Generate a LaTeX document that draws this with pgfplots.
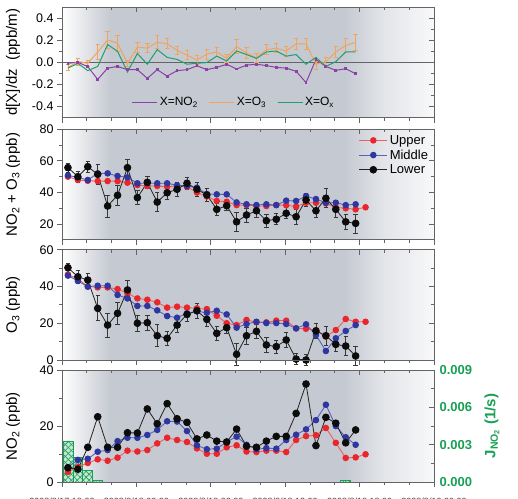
\documentclass[border=0pt]{standalone}
\usepackage{fontspec}
\setmainfont{Liberation Sans}
\usepackage{pgfplots}
\usepackage{pgfplotstable}
\pgfplotsset{compat=1.18}
\usetikzlibrary{patterns.meta}

\definecolor{nightgray}{RGB}{197,201,209}
\definecolor{upperred}{RGB}{234,38,44}
\definecolor{upperline}{RGB}{238,96,96}
\definecolor{middleblue}{RGB}{46,54,160}
\definecolor{middleline}{RGB}{88,98,190}
\definecolor{lowerdot}{RGB}{12,12,12}
\definecolor{lowerline}{RGB}{35,35,35}
\definecolor{errgray}{RGB}{55,55,55}
\definecolor{gradno}{RGB}{140,64,168}
\definecolor{grado}{RGB}{242,164,92}
\definecolor{gradox}{RGB}{32,160,112}
\definecolor{jgreen}{RGB}{24,160,84}
\definecolor{framegray}{RGB}{100,100,100}

% day/night background: white at the edges, grey during the night
\pgfdeclarehorizontalshading{nightshade}{100bp}{%
  color(0bp)=(white); color(25bp)=(white);
  color(31.5bp)=(nightgray); color(63bp)=(nightgray);
  color(68bp)=(nightgray!50!white); color(75bp)=(nightgray!12!white);
  color(100bp)=(nightgray!12!white)}

% vertical gradients d[X]/dz
\pgfplotstableread{
i no2 o3 o3e ox
0 -0.010 -0.047 0.030 -0.053
1 0.000 0.006 0.030 -0.010
2 -0.040 -0.009 0.030 -0.076
3 -0.155 0.093 0.070 -0.038
4 -0.053 0.202 0.080 0.160
5 -0.038 0.172 0.070 0.099
6 -0.067 -0.009 0.030 -0.088
7 -0.067 0.137 0.045 0.079
8 -0.146 0.128 0.040 -0.018
9 -0.067 0.181 0.060 0.114
10 -0.126 0.167 0.045 0.044
11 -0.076 0.108 0.040 0.026
12 -0.067 0.064 0.040 -0.018
13 -0.032 0.020 0.040 -0.009
14 -0.067 0.073 0.045 -0.003
15 -0.047 0.093 0.040 0.055
16 -0.018 0.035 0.035 0.011
17 -0.061 0.143 0.060 0.102
18 -0.026 0.084 0.050 0.070
19 -0.018 0.040 0.040 0.035
20 -0.030 0.114 0.045 0.093
21 -0.047 0.128 0.040 0.102
22 -0.053 0.102 0.045 0.055
23 -0.082 0.167 0.050 0.070
24 -0.184 0.167 0.050 -0.018
25 0.025 -0.017 0.045 0.044
26 -0.038 0.006 0.040 -0.038
27 -0.073 0.093 0.050 0.006
28 -0.059 0.152 0.060 0.093
29 -0.103 0.181 0.075 0.093
}\gradtab

% NO2 + O3 at three heights
\pgfplotstableread{
i up mid low lowe
0 50.0 50.8 55.7 3.0
1 47.9 49.5 50.0 3.5
2 47.4 47.9 56.3 3.5
3 47.2 52.1 51.5 6.5
4 47.2 52.1 31.4 7.0
5 47.2 50.4 38.2 6.5
6 46.2 49.6 55.7 5.0
7 44.7 45.8 36.7 4.5
8 44.1 45.8 46.4 4.0
9 44.1 45.8 33.9 6.0
10 43.6 45.8 39.8 4.0
11 44.1 44.5 42.0 4.5
12 43.6 44.1 45.8 4.0
13 40.0 43.0 42.0 4.5
14 37.5 39.0 38.4 4.0
15 34.6 38.8 29.3 3.5
16 34.1 38.8 31.6 3.0
17 32.0 33.7 21.4 6.0
18 32.0 32.5 25.7 4.5
19 31.4 32.0 28.4 4.0
20 31.4 32.5 22.1 4.0
21 32.0 32.0 23.0 3.5
22 32.0 34.8 26.8 3.5
23 31.0 34.6 24.6 4.5
24 33.5 37.7 35.2 4.0
25 33.5 35.8 28.4 4.0
26 33.1 33.5 36.3 6.0
27 30.6 33.5 29.3 5.0
28 30.0 32.0 21.4 4.5
29 29.3 32.5 20.4 6.0
30 30.6 nan nan nan
}\oxtab

% O3 at three heights
\pgfplotstableread{
i up mid low lowe
0 46.5 45.9 50.2 2.5
1 44.0 43.0 45.3 3.5
2 40.0 39.9 43.5 3.5
3 39.5 40.4 28.1 6.8
4 39.5 40.4 19.0 6.5
5 38.6 35.4 25.4 6.0
6 36.3 33.5 38.1 5.0
7 33.5 29.4 20.0 4.5
8 32.8 29.4 20.3 4.0
9 31.4 27.0 13.2 6.0
10 28.5 23.9 11.8 4.0
11 29.0 23.0 19.0 4.0
12 28.5 25.4 24.8 4.0
13 28.1 26.5 26.8 4.0
14 27.7 25.7 22.1 4.0
15 24.1 26.8 14.5 4.0
16 20.0 24.8 17.6 3.0
17 19.0 17.6 3.1 6.0
18 21.8 19.6 13.2 4.5
19 20.6 20.8 15.6 4.0
20 20.5 20.1 8.2 4.0
21 21.4 20.1 7.3 3.5
22 21.4 19.6 10.9 4.0
23 17.2 17.2 0.5 3.0
24 17.0 19.4 0.0 3.0
25 16.3 13.6 15.8 4.0
26 12.7 4.9 13.2 5.0
27 16.3 11.8 8.5 4.0
28 22.3 15.8 7.6 5.0
29 20.8 19.0 2.2 5.0
30 20.8 nan nan nan
}\othreetab

% NO2 at three heights
\pgfplotstableread{
i up mid low
0 3.6 5.3 5.1
1 5.3 7.9 4.6
2 6.8 8.3 12.4
3 8.1 10.8 23.3
4 7.6 11.4 12.4
5 8.7 14.6 12.4
6 11.2 15.8 17.6
7 10.9 15.8 17.5
8 11.4 16.8 26.1
9 13.8 18.6 20.8
10 15.8 21.7 28.0
11 15.0 21.6 22.6
12 14.3 18.2 21.3
13 12.0 13.1 15.4
14 10.1 11.7 16.8
15 10.1 11.9 14.6
16 12.4 14.3 14.3
17 13.1 16.2 18.9
18 10.9 13.3 12.8
19 10.7 11.7 12.4
20 11.2 12.1 14.6
21 11.2 11.9 16.3
22 10.7 15.0 16.3
23 15.0 16.9 24.5
24 16.4 18.8 35.0
25 16.7 22.1 13.0
26 19.3 27.6 23.1
27 14.0 20.0 21.0
28 8.6 16.0 14.0
29 8.8 13.3 18.6
30 9.9 nan nan
}\notab

% NO2 photolysis frequency
\pgfplotstableread{
i j
0 0.0033
1 0.0020
2 0.0009
3 0.0001
28 0.0001
}\jtab

\pgfplotsset{
  every panel/.style={
    scale only axis, width=372pt,
    xmin=-0.6, xmax=36.9,
    xtick={-0.6,6.9,14.4,21.9,29.4,36.9},
    minor xtick={1.9,4.4,9.4,11.9,16.9,19.4,24.4,26.9,31.9,34.4},
    axis line style={framegray, line width=0.9pt},
    tick style={framegray, line width=0.8pt},
    major tick length=5pt, minor tick length=3pt,
    tick label style={font=\fontsize{12.5}{14}\selectfont, color=black},
    /pgf/number format/assume math mode=true,
    clip=false,
  },
  outer ticks/.style={every panel,
    tick align=outside, xtick pos=left, ytick pos=left,
    xticklabels={},
    every axis y label/.style={at={(axis description cs:-0.1317,0.5)},
      rotate=90, anchor=center,
      font=\fontsize{15}{17}\selectfont},
  },
  inner ticks/.style={every panel,
    tick align=inside, xtick pos=right, ytick pos=right,
    xticklabels={}, yticklabels={},
  },
  upper/.style={upperline, line width=0.9pt, mark=*, mark size=2.8pt,
    mark options={fill=upperred, draw=upperred}},
  middle/.style={middleline, line width=0.9pt, mark=*, mark size=2.8pt,
    mark options={fill=middleblue, draw=middleblue}},
  lower/.style={lowerline, line width=0.8pt, mark=*, mark size=3.4pt,
    mark options={fill=lowerdot, draw=lowerdot}},
  lowerbars/.style={error bars/.cd, y dir=both, y explicit,
    error bar style={errgray, line width=0.7pt},
    error mark options={errgray, rotate=90, mark size=2.2pt, line width=0.7pt}},
}

\begin{document}
\begin{tikzpicture}[x=1pt,y=1pt]
\useasboundingbox (0,0) rectangle (518,-498);
\clip (0,0) rectangle (518,-498);

% ---- panel 1: vertical gradients
\begin{axis}[outer ticks, at={(62pt,-7pt)}, anchor=north west, height=110.5pt,
  ymin=-0.5, ymax=0.5, ytick={-0.4,-0.2,0,0.2,0.4},
  minor ytick={-0.3,-0.1,0.1,0.3},
  yticklabel style={/pgf/number format/.cd, fixed, fixed zerofill, precision=1},
  ylabel={d[X]/dz\ \ (ppb/m)},
  axis background/.style={shading=nightshade},
  legend style={at={(0.462,0.055)}, anchor=south, draw=none, fill=none,
    font=\fontsize{12}{14}\selectfont,
    /tikz/every even column/.append style={column sep=9pt}},
  legend columns=3,
  legend image code/.code={\draw[#1] (0pt,0pt) -- (25pt,0pt);},
]
\draw[framegray, line width=0.9pt] (axis cs:-0.6,0) -- (axis cs:36.9,0);
\addplot[gradno, line width=1pt, mark=square*, mark size=0.9pt, forget plot]
  table[x=i, y=no2] {\gradtab};
\addplot[grado, line width=1pt, mark=none, forget plot,
  error bars/.cd, y dir=both, y explicit,
  error bar style={grado, line width=0.8pt},
  error mark options={grado, rotate=90, mark size=2.2pt, line width=0.8pt}]
  table[x=i, y=o3, y error=o3e] {\gradtab};
\addplot[gradox, line width=1pt, mark=none, forget plot]
  table[x=i, y=ox] {\gradtab};
\addlegendimage{gradno, line width=1pt}
\addlegendentry{X=NO\textsubscript{2}}
\addlegendimage{grado, line width=1pt}
\addlegendentry{X=O\textsubscript{3}}
\addlegendimage{gradox, line width=1pt}
\addlegendentry{X=O\textsubscript{x}}
\end{axis}
\begin{axis}[inner ticks, at={(62pt,-7pt)}, anchor=north west, height=110.5pt,
  ymin=-0.5, ymax=0.5, ytick={-0.4,-0.2,0,0.2,0.4},
  minor ytick={-0.3,-0.1,0.1,0.3}]
\end{axis}

% ---- panel 2: NO2 + O3
\begin{axis}[outer ticks, at={(62pt,-129.3pt)}, anchor=north west, height=110.5pt,
  ymin=10, ymax=80, ytick={20,40,60,80}, minor ytick={30,50,70},
  ylabel={NO\textsubscript{2} + O\textsubscript{3} (ppb)},
  axis background/.style={shading=nightshade},
  legend style={at={(0.998,0.985)}, anchor=north east, draw=none, fill=none,
    font=\fontsize{13}{15}\selectfont},
  legend cell align=left,
  legend image code/.code={\draw[mark repeat=2,mark phase=2,#1]
    plot coordinates {(0pt,0pt) (14pt,0pt) (28pt,0pt)};},
]
\addplot[upper] table[x=i, y=up] {\oxtab};
\addlegendentry{Upper}
\addplot[middle] table[x=i, y=mid] {\oxtab};
\addlegendentry{Middle}
\addplot[lower, lowerbars] table[x=i, y=low, y error=lowe] {\oxtab};
\addlegendentry{Lower}
\end{axis}
\begin{axis}[inner ticks, at={(62pt,-129.3pt)}, anchor=north west, height=110.5pt,
  ymin=10, ymax=80, ytick={20,40,60,80}, minor ytick={30,50,70}]
\end{axis}

% ---- panel 3: O3
\begin{axis}[outer ticks, at={(62pt,-249.7pt)}, anchor=north west, height=110.3pt,
  ymin=0, ymax=60, ytick={0,20,40,60}, minor ytick={10,30,50},
  ylabel={O\textsubscript{3} (ppb)},
  axis background/.style={shading=nightshade},
]
\addplot[upper] table[x=i, y=up] {\othreetab};
\addplot[middle] table[x=i, y=mid] {\othreetab};
\addplot[lower, lowerbars] table[x=i, y=low, y error=lowe] {\othreetab};
\end{axis}
\begin{axis}[inner ticks, at={(62pt,-249.7pt)}, anchor=north west, height=110.3pt,
  ymin=0, ymax=60, ytick={0,20,40,60}, minor ytick={10,30,50}]
\end{axis}

% ---- panel 4: J(NO2) bars on the right axis
\begin{axis}[every panel, at={(62pt,-370pt)}, anchor=north west, height=112pt,
  tick align=inside, xtick pos=right, ytick pos=right, xticklabels={},
  axis background/.style={shading=nightshade},
  ymin=0, ymax=0.009, ytick={0,0.003,0.006,0.009},
  minor ytick={0.0015,0.0045,0.0075},
  scaled y ticks=false,
  yticklabel style={/pgf/number format/.cd, fixed, fixed zerofill, precision=3,
    /tikz/.cd, font=\fontsize{13}{15}\selectfont\bfseries, color=jgreen, xshift=2pt},
  ylabel={J\textsubscript{NO\textsubscript{2}} (1/s)},
  every axis y label/.style={at={(axis description cs:1.156,0.5)}, rotate=90,
    anchor=center, font=\fontsize{15}{17}\selectfont\bfseries,
    color=jgreen},
]
\addplot[ybar, bar width=9.9pt, bar shift=0pt, draw=jgreen, line width=0.8pt,
  fill=jgreen!25,
  postaction={pattern={Lines[angle=45,distance=4.2pt,line width=0.6pt]},
    pattern color=jgreen},
  postaction={pattern={Lines[angle=-45,distance=4.2pt,line width=0.6pt]},
    pattern color=jgreen}]
  table[x=i, y=j] {\jtab};
\end{axis}

% ---- panel 4: NO2
\begin{axis}[outer ticks, at={(62pt,-370pt)}, anchor=north west, height=112pt,
  ymin=0, ymax=40, ytick={0,20,40}, minor ytick={10,30},
  xticklabels={2008/8/17 18:00,2008/8/18 00:00,2008/8/18 06:00,
    2008/8/18 12:00,2008/8/18 18:00,2008/8/19 00:00},
  xticklabel style={font=\fontsize{9}{11}\selectfont, yshift=-7pt,
    color=black!75},
  ylabel={NO\textsubscript{2} (ppb)},
]
\addplot[upper] table[x=i, y=up] {\notab};
\addplot[middle] table[x=i, y=mid] {\notab};
\addplot[lower] table[x=i, y=low] {\notab};
\end{axis}
\end{tikzpicture}
\end{document}
